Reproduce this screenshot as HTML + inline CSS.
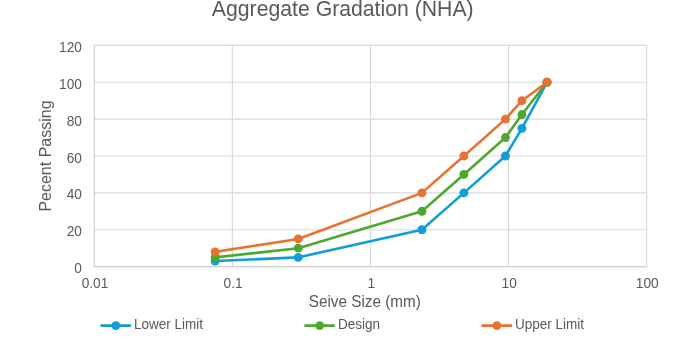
<!DOCTYPE html>
<html><head><meta charset="utf-8"><title>Aggregate Gradation (NHA)</title>
<style>
html,body{margin:0;padding:0;background:#fff;}
body{width:685px;height:339px;overflow:hidden;}
svg{display:block;}
text{font-family:"Liberation Sans",Arial,sans-serif;fill:#595959;}
.t{font-size:21.33px;}
.a{font-size:13.71px;}
.l{font-size:13.71px;}
.ax{font-size:15.7px;}
.ay{font-size:15.6px;}
</style></head><body>
<svg width="685" height="339" viewBox="0 0 685 339">
<rect width="685" height="339" fill="#fff"/>
<line x1="93.70" y1="266.60" x2="647.20" y2="266.60" stroke="#D0D0D0" stroke-width="1.2"/>
<line x1="93.70" y1="229.73" x2="647.20" y2="229.73" stroke="#D9D9D9" stroke-width="1.2"/>
<line x1="93.70" y1="192.87" x2="647.20" y2="192.87" stroke="#D9D9D9" stroke-width="1.2"/>
<line x1="93.70" y1="156.00" x2="647.20" y2="156.00" stroke="#D9D9D9" stroke-width="1.2"/>
<line x1="93.70" y1="119.13" x2="647.20" y2="119.13" stroke="#D9D9D9" stroke-width="1.2"/>
<line x1="93.70" y1="82.27" x2="647.20" y2="82.27" stroke="#D9D9D9" stroke-width="1.2"/>
<line x1="93.70" y1="45.40" x2="647.20" y2="45.40" stroke="#D9D9D9" stroke-width="1.2"/>
<line x1="94.30" y1="44.80" x2="94.30" y2="267.20" stroke="#D0D0D0" stroke-width="1.2"/>
<line x1="232.38" y1="44.80" x2="232.38" y2="267.20" stroke="#D9D9D9" stroke-width="1.2"/>
<line x1="370.45" y1="44.80" x2="370.45" y2="267.20" stroke="#D9D9D9" stroke-width="1.2"/>
<line x1="508.53" y1="44.80" x2="508.53" y2="267.20" stroke="#D9D9D9" stroke-width="1.2"/>
<line x1="646.60" y1="44.80" x2="646.60" y2="267.20" stroke="#D9D9D9" stroke-width="1.2"/>
<text class="a" x="81.9" y="273.1" text-anchor="end">0</text>
<text class="a" x="81.9" y="236.2" text-anchor="end">20</text>
<text class="a" x="81.9" y="199.4" text-anchor="end">40</text>
<text class="a" x="81.9" y="162.5" text-anchor="end">60</text>
<text class="a" x="81.9" y="125.6" text-anchor="end">80</text>
<text class="a" x="81.9" y="88.8" text-anchor="end">100</text>
<text class="a" x="81.9" y="51.9" text-anchor="end">120</text>
<text class="a" x="95.0" y="287.9" text-anchor="middle">0.01</text>
<text class="a" x="233.1" y="287.9" text-anchor="middle">0.1</text>
<text class="a" x="371.2" y="287.9" text-anchor="middle">1</text>
<text class="a" x="509.2" y="287.9" text-anchor="middle">10</text>
<text class="a" x="647.3" y="287.9" text-anchor="middle">100</text>
<text class="t" transform="translate(342.75,16.2) scale(0.9955,1)" text-anchor="middle">Aggregate Gradation (NHA)</text>
<text class="ax" transform="translate(364.8,306.6) scale(0.975,1)" text-anchor="middle">Seive Size (mm)</text>
<text class="ay" transform="translate(51.0,156.0) rotate(-90) scale(1.026,1)" text-anchor="middle">Pecent Passing</text>
<polyline points="215.12,261.07 298.25,257.38 421.94,229.73 463.88,192.87 505.45,156.00 521.91,128.35 547.01,82.27" fill="none" stroke="#0F9ED5" stroke-width="2.6" stroke-linejoin="round" stroke-linecap="round"/>
<circle cx="215.12" cy="261.07" r="4.45" fill="#0F9ED5"/>
<circle cx="298.25" cy="257.38" r="4.45" fill="#0F9ED5"/>
<circle cx="421.94" cy="229.73" r="4.45" fill="#0F9ED5"/>
<circle cx="463.88" cy="192.87" r="4.45" fill="#0F9ED5"/>
<circle cx="505.45" cy="156.00" r="4.45" fill="#0F9ED5"/>
<circle cx="521.91" cy="128.35" r="4.45" fill="#0F9ED5"/>
<circle cx="547.01" cy="82.27" r="4.45" fill="#0F9ED5"/>
<polyline points="215.12,257.38 298.25,248.17 421.94,211.30 463.88,174.43 505.45,137.57 521.91,114.53 547.01,82.27" fill="none" stroke="#4EA72E" stroke-width="2.6" stroke-linejoin="round" stroke-linecap="round"/>
<circle cx="215.12" cy="257.38" r="4.45" fill="#4EA72E"/>
<circle cx="298.25" cy="248.17" r="4.45" fill="#4EA72E"/>
<circle cx="421.94" cy="211.30" r="4.45" fill="#4EA72E"/>
<circle cx="463.88" cy="174.43" r="4.45" fill="#4EA72E"/>
<circle cx="505.45" cy="137.57" r="4.45" fill="#4EA72E"/>
<circle cx="521.91" cy="114.53" r="4.45" fill="#4EA72E"/>
<circle cx="547.01" cy="82.27" r="4.45" fill="#4EA72E"/>
<polyline points="215.12,251.85 298.25,238.95 421.94,192.87 463.88,156.00 505.45,119.13 521.91,100.70 547.01,82.27" fill="none" stroke="#E97132" stroke-width="2.6" stroke-linejoin="round" stroke-linecap="round"/>
<circle cx="215.12" cy="251.85" r="4.45" fill="#E97132"/>
<circle cx="298.25" cy="238.95" r="4.45" fill="#E97132"/>
<circle cx="421.94" cy="192.87" r="4.45" fill="#E97132"/>
<circle cx="463.88" cy="156.00" r="4.45" fill="#E97132"/>
<circle cx="505.45" cy="119.13" r="4.45" fill="#E97132"/>
<circle cx="521.91" cy="100.70" r="4.45" fill="#E97132"/>
<circle cx="547.01" cy="82.27" r="4.45" fill="#E97132"/>
<line x1="101.5" y1="325.6" x2="130.0" y2="325.6" stroke="#0F9ED5" stroke-width="2.6" stroke-linecap="round"/>
<circle cx="115.8" cy="325.6" r="4.45" fill="#0F9ED5"/>
<text class="l" transform="translate(134.0,329.4) scale(0.987,1)">Lower Limit</text>
<line x1="305.4" y1="325.6" x2="333.9" y2="325.6" stroke="#4EA72E" stroke-width="2.6" stroke-linecap="round"/>
<circle cx="319.7" cy="325.6" r="4.45" fill="#4EA72E"/>
<text class="l" transform="translate(337.9,329.4) scale(0.987,1)">Design</text>
<line x1="482.5" y1="325.6" x2="511.0" y2="325.6" stroke="#E97132" stroke-width="2.6" stroke-linecap="round"/>
<circle cx="496.8" cy="325.6" r="4.45" fill="#E97132"/>
<text class="l" transform="translate(515.0,329.4) scale(0.987,1)">Upper Limit</text>
</svg></body></html>
